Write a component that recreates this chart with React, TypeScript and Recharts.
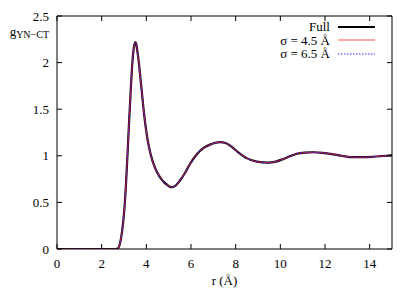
import { ComposedChart, Line, XAxis, YAxis, Legend } from "recharts";

// r in Å, g(r)
const rValues = [
  0, 2.6, 2.72, 2.82, 2.92, 3.0, 3.09, 3.16, 3.24, 3.3, 3.36, 3.42, 3.47, 3.51, 3.55, 3.6,
  3.66, 3.72, 3.79, 3.88, 3.99, 4.06, 4.14, 4.24, 4.32, 4.4, 4.5, 4.58, 4.7, 4.8, 4.95, 5.1,
  5.2, 5.33, 5.51, 5.73, 5.96, 6.2, 6.4, 6.6, 6.85, 7.05, 7.3, 7.55, 7.8, 8.1, 8.49, 8.94,
  9.45, 9.8, 10.13, 10.45, 10.73, 11.1, 11.46, 11.9, 12.37, 12.8, 13.26, 13.7, 14.17, 14.6, 15,
];
const gFull = [
  0, 0, 0.005, 0.06, 0.2, 0.38, 0.7, 1.03, 1.42, 1.7, 1.95, 2.12, 2.2, 2.22, 2.2, 2.12,
  2.01, 1.87, 1.706, 1.49, 1.277, 1.17, 1.07, 0.975, 0.915, 0.865, 0.815, 0.782, 0.742, 0.715, 0.685, 0.664,
  0.666, 0.684, 0.735, 0.815, 0.915, 0.998, 1.052, 1.09, 1.12, 1.137, 1.147, 1.138, 1.1, 1.04, 0.975, 0.937,
  0.926, 0.938, 0.965, 0.997, 1.022, 1.035, 1.038, 1.032, 1.016, 0.998, 0.985, 0.985, 0.99, 0.998, 1.005,
];
const gSigma45 = [
  0, 0, 0.005, 0.06, 0.2, 0.38, 0.7, 1.03, 1.42, 1.7, 1.95, 2.12, 2.2, 2.22, 2.2, 2.12,
  2.01, 1.87, 1.706, 1.49, 1.277, 1.17, 1.07, 0.975, 0.915, 0.865, 0.815, 0.782, 0.742, 0.715, 0.685, 0.664,
  0.666, 0.684, 0.735, 0.815, 0.915, 0.998, 1.052, 1.09, 1.12, 1.137, 1.147, 1.138, 1.1, 1.04, 0.975, 0.937,
  0.926, 0.938, 0.965, 0.997, 1.022, 1.035, 1.038, 1.032, 1.016, 0.998, 0.985, 0.985, 0.99, 0.998, 1.005,
];
const gSigma65 = [
  0, 0, 0.005, 0.06, 0.2, 0.38, 0.7, 1.03, 1.42, 1.7, 1.95, 2.12, 2.2, 2.22, 2.2, 2.12,
  2.01, 1.87, 1.706, 1.49, 1.277, 1.17, 1.07, 0.975, 0.915, 0.865, 0.815, 0.782, 0.742, 0.715, 0.685, 0.664,
  0.666, 0.684, 0.735, 0.815, 0.915, 0.998, 1.052, 1.09, 1.12, 1.137, 1.147, 1.138, 1.1, 1.04, 0.975, 0.937,
  0.926, 0.938, 0.965, 0.997, 1.022, 1.035, 1.038, 1.032, 1.016, 0.998, 0.985, 0.985, 0.99, 0.998, 1.005,
];
const xTicks = [0, 2, 4, 6, 8, 10, 12, 14];
const yTicks = [0, 0.5, 1, 1.5, 2, 2.5];

const data = rValues.map((r, i) => ({
  r,
  full: gFull[i],
  s45: gSigma45[i],
  s65: gSigma65[i],
}));

const FONT = '"Liberation Serif", "DejaVu Serif", serif';

const legendRows = [
  { label: "Full", stroke: "#000000", width: 2, dash: undefined },
  { label: "σ = 4.5 Å", stroke: "#ffaaaa", width: 2, dash: undefined },
  { label: "σ = 6.5 Å", stroke: "#7777ff", width: 1.5, dash: "1.5 1.5" },
];

function KeyBox() {
  return (
    <div style={{ fontFamily: FONT, fontSize: 13, color: "#000" }}>
      {legendRows.map((row) => (
        <div
          key={row.label}
          style={{ display: "flex", alignItems: "center", justifyContent: "flex-end", height: 13.6 }}
        >
          <span style={{ lineHeight: "13px" }}>{row.label}</span>
          <svg width={37} height={6} style={{ marginLeft: 8 }}>
            <line x1={0} y1={3} x2={37} y2={3} stroke={row.stroke} strokeWidth={row.width} strokeDasharray={row.dash} />
          </svg>
        </div>
      ))}
    </div>
  );
}

function YLabel(props: any) {
  const vb = props.viewBox || { x: 0, y: 0, width: 57 };
  return (
    <text x={vb.x + vb.width - 8} y={vb.y + 20} textAnchor="end" style={{ fontFamily: FONT }} fontSize={13} fill="#000">
      g
      <tspan fontSize={10} dy={2}>
        YN−CT
      </tspan>
    </text>
  );
}

const tickStyle = { fontFamily: FONT, fontSize: 13, fill: "#000" };

export default function App() {
  return (
    <div style={{ position: "absolute", left: 0, top: 0, background: "#fff", fontFamily: FONT }}>
      <ComposedChart
        width={415}
        height={291}
        data={data}
        margin={{ top: 15, right: 22, bottom: 0, left: 0 }}
        style={{ fontFamily: FONT }}
      >
        <XAxis
          xAxisId="bottom"
          dataKey="r"
          type="number"
          domain={[0, 15]}
          ticks={xTicks}
          allowDataOverflow
          height={42}
          tickSize={-5}
          tickMargin={15}
          tick={tickStyle}
          stroke="#000"
          label={{ value: "r (Å)", position: "insideBottom", offset: 6, style: { fontFamily: FONT, fontSize: 13, fill: "#000" } }}
        />
        <XAxis
          xAxisId="top"
          dataKey="r"
          type="number"
          orientation="top"
          domain={[0, 15]}
          ticks={xTicks}
          allowDataOverflow
          height={1}
          tickSize={-5}
          tickFormatter={() => ""}
          stroke="#000"
        />
        <YAxis
          yAxisId="left"
          type="number"
          domain={[0, 2.5]}
          ticks={yTicks}
          allowDataOverflow
          width={57}
          tickSize={-5}
          tickMargin={13}
          tick={tickStyle}
          stroke="#000"
          label={<YLabel />}
        />
        <YAxis
          yAxisId="right"
          type="number"
          orientation="right"
          domain={[0, 2.5]}
          ticks={yTicks}
          allowDataOverflow
          width={1}
          tickSize={-5}
          tickFormatter={() => ""}
          stroke="#000"
        />
        <Legend
          layout="vertical"
          align="center"
          verticalAlign="middle"
          wrapperStyle={{ top: 20, right: 40 }}
          content={() => <KeyBox />}
        />
        <Line
          xAxisId="bottom"
          yAxisId="left"
          type="monotone"
          dataKey="full"
          stroke="#000000"
          strokeWidth={2.2}
          dot={false}
          activeDot={false}
          isAnimationActive={false}
        />
        <Line
          xAxisId="bottom"
          yAxisId="left"
          type="monotone"
          dataKey="s45"
          stroke="#ff2020"
          strokeWidth={1}
          dot={false}
          activeDot={false}
          isAnimationActive={false}
        />
        <Line
          xAxisId="bottom"
          yAxisId="left"
          type="monotone"
          dataKey="s65"
          stroke="#2020ff"
          strokeWidth={1}
          strokeDasharray="1.5 1.5"
          dot={false}
          activeDot={false}
          isAnimationActive={false}
        />
      </ComposedChart>
    </div>
  );
}
